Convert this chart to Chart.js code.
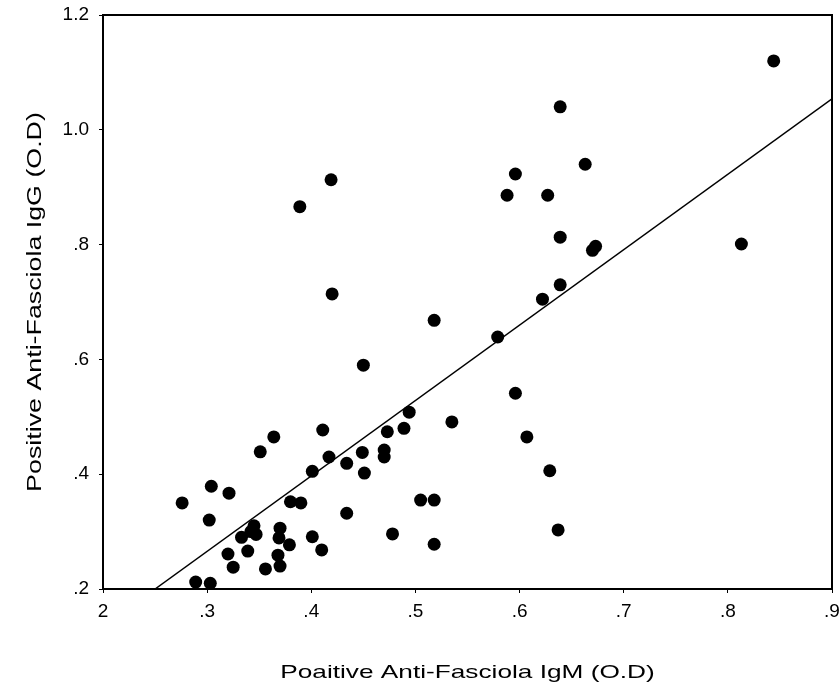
<!DOCTYPE html>
<html>
<head>
<meta charset="utf-8">
<script src="https://cdn.jsdelivr.net/npm/chart.js@4"></script>
<style>
  html, body { margin: 0; padding: 0; background: #fff; }
  #wrap { width: 839px; height: 691px; }
</style>
</head>
<body>
<div id="wrap"><canvas id="c" width="839" height="691"></canvas></div>
<script>
// IgM (x) and IgG (y) optical densities
const igmValues = [0.844,0.639,0.663,0.596,0.588,0.627,0.639,0.670,0.673,0.813,
  0.639,0.622,0.518,0.419,0.389,0.420,0.579,0.596,0.535,0.607,
  0.629,0.505,0.518,0.637,0.518,0.450,0.276,0.304,0.321,0.302,
  0.351,0.364,0.411,0.417,0.401,0.434,0.449,0.451,0.470,0.470,
  0.473,0.489,0.494,0.434,0.380,0.390,0.478,0.401,0.410,0.333,
  0.342,0.345,0.347,0.370,0.369,0.379,0.339,0.320,0.368,0.370,
  0.325,0.356,0.289,0.303];
const iggValues = [1.120,1.040,0.940,0.923,0.886,0.886,0.813,0.790,0.797,0.801,
  0.730,0.705,0.668,0.913,0.866,0.714,0.639,0.541,0.491,0.465,
  0.406,0.355,0.355,0.303,0.278,0.590,0.350,0.379,0.367,0.320,
  0.439,0.465,0.477,0.430,0.405,0.419,0.438,0.402,0.442,0.430,
  0.474,0.480,0.508,0.332,0.352,0.350,0.296,0.291,0.268,0.290,
  0.300,0.310,0.295,0.306,0.289,0.277,0.266,0.261,0.259,0.240,
  0.238,0.235,0.212,0.210];
// fitted line end points
const fitX = [0.25, 0.90];
const fitY = [0.20, 1.054];
// tick labels as printed
const xTickValues = [0.2,0.3,0.4,0.5,0.6,0.7,0.8,0.9];
const xTickLabels = ["2",".3",".4",".5",".6",".7",".8",".9"];
const yTickValues = [0.2,0.4,0.6,0.8,1.0,1.2];
const yTickLabels = [".2",".4",".6",".8","1.0","1.2"];

const points = igmValues.map((x, i) => ({ x: x, y: iggValues[i] }));
const fitLine = fitX.map((x, i) => ({ x: x, y: fitY[i] }));

const frame = {
  id: 'frame',
  afterDatasetsDraw(chart) {
    const a = chart.chartArea, ctx = chart.ctx;
    ctx.save();
    ctx.strokeStyle = '#000';
    ctx.lineWidth = 2;
    ctx.strokeRect(a.left, a.top, a.right - a.left, a.bottom - a.top);
    ctx.restore();
  }
};

// the original axis titles are printed horizontally stretched
function stretchTitle(scale, k) {
  if (scale._stretched) return;
  const orig = scale.drawTitle.bind(scale);
  scale.drawTitle = function () {
    const ctx = scale.ctx;
    ctx.save();
    if (scale.isHorizontal()) {
      const cx = (scale.left + scale.right) / 2;
      ctx.translate(cx, 0); ctx.scale(k, 1); ctx.translate(-cx, 0);
    } else {
      const cy = (scale.top + scale.bottom) / 2;
      ctx.translate(0, cy); ctx.scale(1, k); ctx.translate(0, -cy);
    }
    orig();
    ctx.restore();
  };
  scale._stretched = true;
}

function noPad(s) { s.paddingLeft = 0; s.paddingRight = 0; s.paddingTop = 0; s.paddingBottom = 0; }

const FONT = 'Liberation Sans, Arial, sans-serif';

new Chart(document.getElementById('c'), {
  type: 'scatter',
  data: {
    datasets: [
      {
        data: points,
        backgroundColor: '#000',
        borderColor: '#000',
        borderWidth: 0,
        pointRadius: 6.5,
        pointHoverRadius: 6.5
      },
      {
        type: 'line',
        data: fitLine,
        borderColor: '#000',
        borderWidth: 1.5,
        pointRadius: 0,
        fill: false
      }
    ]
  },
  options: {
    responsive: false,
    animation: false,
    events: [],
    layout: { autoPadding: false, padding: { top: 15, right: 7, bottom: 0, left: 0 } },
    plugins: { legend: { display: false }, tooltip: { enabled: false } },
    scales: {
      x: {
        type: 'linear',
        min: 0.2, max: 0.9,
        afterBuildTicks(s) { s.ticks = xTickValues.map(v => ({ value: v })); },
        afterFit(s) { s.height = 102; noPad(s); },
        afterUpdate(s) { stretchTitle(s, 1.38); },
        ticks: {
          color: '#000',
          font: { family: FONT, size: 19 },
          padding: 7,
          maxRotation: 0,
          callback: (v) => { const i = xTickValues.findIndex(t => Math.abs(t - v) < 1e-6); return i >= 0 ? xTickLabels[i] : ''; }
        },
        grid: { drawOnChartArea: false, drawTicks: true, tickLength: 4, color: '#000' },
        border: { display: true, color: '#000', width: 2 },
        title: {
          display: true,
          text: 'Poaitive Anti-Fasciola IgM (O.D)',
          color: '#000',
          font: { family: FONT, size: 19 },
          padding: { top: 0, bottom: 7 }
        }
      },
      y: {
        type: 'linear',
        min: 0.2, max: 1.2,
        afterBuildTicks(s) { s.ticks = yTickValues.map(v => ({ value: v })); },
        afterFit(s) { s.width = 103; noPad(s); },
        afterUpdate(s) { stretchTitle(s, 1.34); },
        ticks: {
          color: '#000',
          font: { family: FONT, size: 19 },
          padding: 10,
          callback: (v) => { const i = yTickValues.findIndex(t => Math.abs(t - v) < 1e-6); return i >= 0 ? yTickLabels[i] : ''; }
        },
        grid: { drawOnChartArea: false, drawTicks: true, tickLength: 4, color: '#000' },
        border: { display: true, color: '#000', width: 2 },
        title: {
          display: true,
          text: 'Positive Anti-Fasciola IgG (O.D)',
          color: '#000',
          font: { family: FONT, size: 20 },
          padding: { top: 23, bottom: 0 }
        }
      }
    }
  },
  plugins: [frame]
});
</script>
</body>
</html>
